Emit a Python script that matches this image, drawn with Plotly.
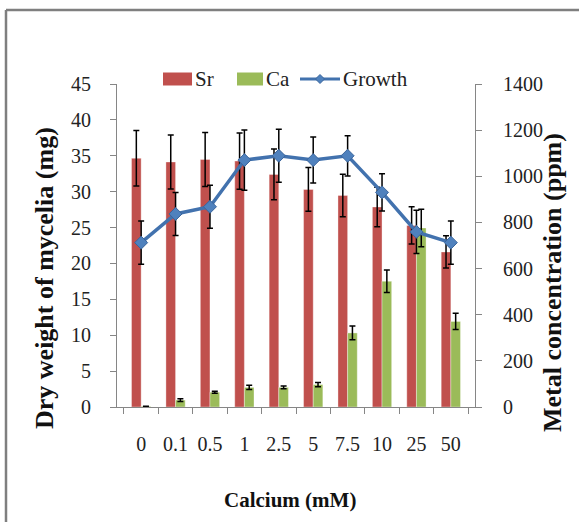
import plotly.graph_objects as go

categories = ["0", "0.1", "0.5", "1", "2.5", "5", "7.5", "10", "25", "50"]
sr_ppm = [1078, 1062, 1073, 1066, 1008, 943, 917, 867, 787, 672]
sr_err = [120, 117, 117, 122, 110, 95, 92, 86, 81, 70]
ca_ppm = [3, 30, 64, 85, 85, 97, 321, 545, 776, 371]
ca_err = [0, 6, 4, 9, 6, 9, 30, 49, 81, 35]
growth_mg = [22.9, 26.9, 27.9, 34.4, 35.0, 34.4, 35.0, 29.9, 24.4, 22.9]
growth_err = [3.0, 3.0, 3.0, 4.2, 3.7, 3.2, 2.8, 2.6, 3.0, 3.0]

left_ticks = list(range(0, 46, 5))
right_ticks = list(range(0, 1401, 200))

SERIF = "Liberation Serif, Times New Roman, serif"
AXIS_GRAY = "#868686"
SR_COLOR = "#C0504D"
CA_COLOR = "#9BBB59"
LINE_COLOR = "#4272AE"
MARK_COLOR = "#4F81BD"

W, H = 579, 522
L, R, T, B = 117, 104, 84, 115
pw, ph = W - L - R, H - T - B

def px_x(x):
    return (x - L) / pw

def px_y(y):
    return (H - B - y) / ph

fig = go.Figure()

fig.add_trace(go.Bar(
    x=categories, y=sr_ppm, name="Sr", yaxis="y",
    marker=dict(color=SR_COLOR, line=dict(color="rgba(255,255,255,0.35)", width=1)),
    error_y=dict(type="data", array=sr_err, visible=True, color="black", thickness=1.5, width=3),
))
fig.add_trace(go.Bar(
    x=categories, y=ca_ppm, name="Ca", yaxis="y",
    marker=dict(color=CA_COLOR, line=dict(color="rgba(255,255,255,0.35)", width=1)),
    error_y=dict(type="data", array=ca_err, visible=True, color="black", thickness=1.5, width=3),
))
fig.add_trace(go.Scatter(
    x=categories, y=growth_mg, name="Growth", yaxis="y2", mode="lines+markers",
    line=dict(color=LINE_COLOR, width=3.5),
    marker=dict(symbol="diamond", size=10, color=MARK_COLOR, line=dict(color="#3A659C", width=1)),
    error_y=dict(type="data", array=growth_err, visible=True, color="black", thickness=1.5, width=3),
))

# custom legend (wide swatches like the reference)
leg_y = 79
shapes = [
    dict(type="line", xref="paper", yref="paper",
         x0=px_x(6), y0=px_y(10), x1=px_x(585), y1=px_y(10),
         line=dict(color="#7F7F7F", width=2.5)),
    dict(type="line", xref="paper", yref="paper",
         x0=px_x(6), y0=px_y(10), x1=px_x(6), y1=px_y(530),
         line=dict(color="#7F7F7F", width=2.5)),
    dict(type="rect", xref="paper", yref="paper",
         x0=px_x(163), x1=px_x(192), y0=px_y(leg_y - 6.5), y1=px_y(leg_y + 6.5),
         fillcolor=SR_COLOR, line=dict(width=0)),
    dict(type="rect", xref="paper", yref="paper",
         x0=px_x(237), x1=px_x(263), y0=px_y(leg_y - 6.5), y1=px_y(leg_y + 6.5),
         fillcolor=CA_COLOR, line=dict(width=0)),
    dict(type="line", xref="paper", yref="paper",
         x0=px_x(300), x1=px_x(340), y0=px_y(leg_y), y1=px_y(leg_y),
         line=dict(color=LINE_COLOR, width=3)),
]
cx, cy, d = 320, leg_y, 4.5
diamond = "M {} {} L {} {} L {} {} L {} {} Z".format(
    px_x(cx), px_y(cy - d), px_x(cx + d), px_y(cy),
    px_x(cx), px_y(cy + d), px_x(cx - d), px_y(cy))
shapes.append(dict(type="path", xref="paper", yref="paper", path=diamond,
                   fillcolor=MARK_COLOR, line=dict(color="#3A659C", width=1)))

annotations = [
    dict(text="<b>Dry weight of mycelia (mg)</b>", xref="paper", yref="paper",
         x=px_x(44), y=px_y(278), textangle=-90, showarrow=False,
         xanchor="center", yanchor="middle",
         font=dict(family=SERIF, size=26, color="#111")),
    dict(text="<b>Metal concentration (ppm)</b>", xref="paper", yref="paper",
         x=px_x(552), y=px_y(283), textangle=-90, showarrow=False,
         xanchor="center", yanchor="middle",
         font=dict(family=SERIF, size=26, color="#111")),
    dict(text="<b>Calcium (mM)</b>", xref="paper", yref="paper",
         x=px_x(290), y=px_y(500), showarrow=False,
         xanchor="center", yanchor="middle",
         font=dict(family=SERIF, size=21, color="#111")),
]
for label, xl in [("Sr", 194), ("Ca", 265), ("Growth", 342)]:
    annotations.append(dict(text=label, xref="paper", yref="paper",
                            x=px_x(xl), y=px_y(leg_y), showarrow=False,
                            xanchor="left", yanchor="middle", xshift=-1,
                            font=dict(family=SERIF, size=21, color="#222")))

fig.update_layout(
    width=W, height=H,
    margin=dict(l=L, r=R, t=T, b=B),
    paper_bgcolor="white", plot_bgcolor="white",
    barmode="group", bargap=0.44, bargroupgap=0,
    font=dict(family=SERIF, size=19, color="#222"),
    showlegend=False,
    xaxis=dict(
        type="category", showline=True, linecolor=AXIS_GRAY, linewidth=1,
        ticks="outside", tickson="boundaries", ticklen=6, tickcolor=AXIS_GRAY,
        tickfont=dict(family=SERIF, size=20, color="#222"), ticklabelstandoff=19,
        showgrid=False, zeroline=False,
    ),
    yaxis=dict(
        side="right", range=[0, 1400], tickvals=right_ticks,
        showline=True, linecolor=AXIS_GRAY, linewidth=1,
        ticks="outside", ticklen=6, tickcolor=AXIS_GRAY,
        tickfont=dict(family=SERIF, size=20, color="#222"), ticklabelstandoff=17,
        showgrid=False, zeroline=False,
    ),
    yaxis2=dict(
        side="left", overlaying="y", range=[0, 45], tickvals=left_ticks,
        showline=True, linecolor=AXIS_GRAY, linewidth=1,
        ticks="outside", ticklen=6, tickcolor=AXIS_GRAY,
        tickfont=dict(family=SERIF, size=20, color="#222"), ticklabelstandoff=15,
        showgrid=False, zeroline=False,
    ),
    annotations=annotations,
    shapes=shapes,
)

fig.write_html("out.html")
